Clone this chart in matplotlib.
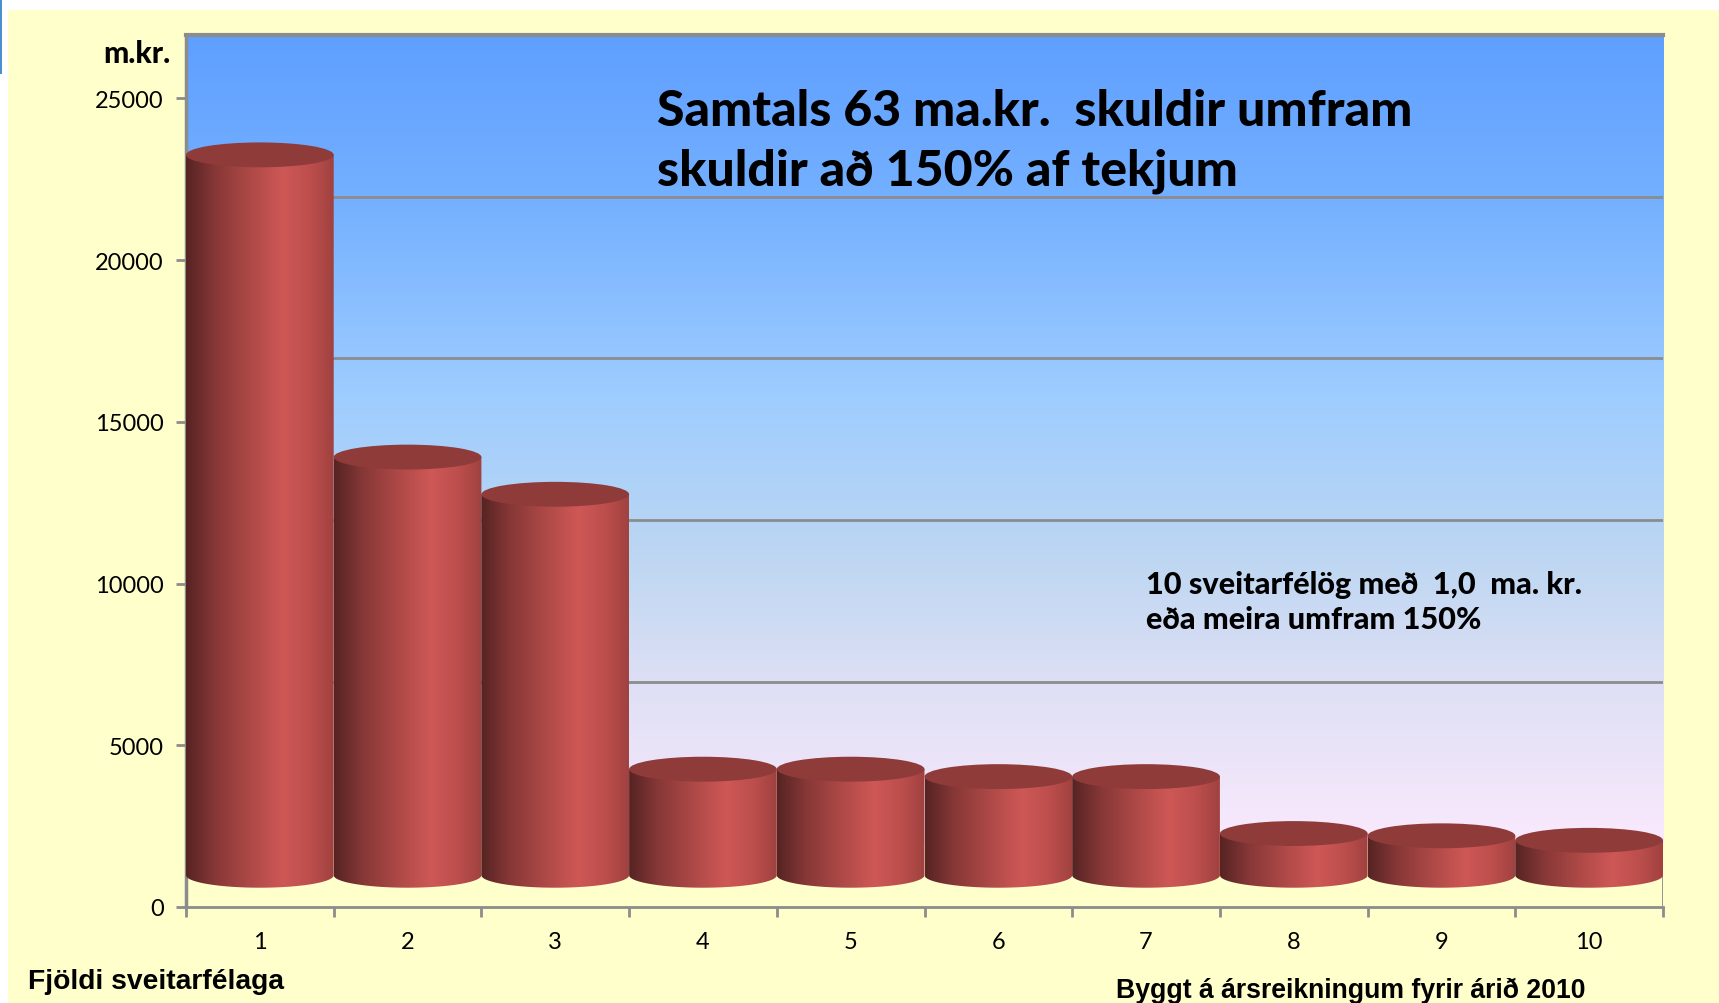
import matplotlib
matplotlib.use('Agg')
import matplotlib.pyplot as plt
import numpy as np
from matplotlib.colors import LinearSegmentedColormap
from matplotlib.patches import Ellipse, PathPatch, Rectangle
from matplotlib.path import Path

categories = ['1', '2', '3', '4', '5', '6', '7', '8', '9', '10']
values = [22275, 12930, 11780, 3280, 3280, 3050, 3050, 1290, 1220, 1080]
yticks = [0, 5000, 10000, 15000, 20000, 25000]
title_lines = ['Samtals 63 ma.kr.  skuldir umfram', 'skuldir að 150% af tekjum']
note_lines = ['10 sveitarfélög með  1,0  ma. kr.', 'eða meira umfram 150%']

W, H = 1719, 1004
DEPTH = 1963     # how far the back wall sits above the front plane, in y units
ELL_H = 770      # full height of a cylinder's end ellipse, in y units
GRID = '#8c8c8c'
FONT = 'Lato'

wall_cmap = LinearSegmentedColormap.from_list(
    'wall', [(0, '#5f9fff'), (0.2, '#74b0ff'), (0.45, '#9fcdff'),
             (0.64, '#bcd6f2'), (0.81, '#dfe0f5'), (1, '#fae9fd')])
bar_cmap = LinearSegmentedColormap.from_list(
    'bar', [(0, '#562423'), (0.2, '#873837'), (0.45, '#b04a48'),
            (0.66, '#ce5856'), (0.85, '#bb4e4c'), (1, '#a04240')])

fig = plt.figure(figsize=(W / 100, H / 100), dpi=100, facecolor='white')

# slide background
bg = fig.add_axes([0, 0, 1, 1], zorder=0)
bg.set_xlim(0, W)
bg.set_ylim(H, 0)
bg.axis('off')
bg.add_patch(Rectangle((8, 11), W - 8, H - 11, color='#ffffcc', lw=0))
bg.add_patch(Rectangle((0, 0), 2, 75, color='#4a8fd0', lw=0))

left, right, top, bottom = 186, 1663, 36, 908
ax = fig.add_axes([left / W, 1 - bottom / H, (right - left) / W, (bottom - top) / H], zorder=1)
ax.patch.set_alpha(0)
ymax = 25000 + DEPTH

# back wall
grad = np.linspace(0, 1, 256).reshape(-1, 1)
ax.imshow(grad, cmap=wall_cmap, extent=(0, 10, DEPTH, ymax), aspect='auto', zorder=1)
for t in yticks[1:-1]:
    ax.plot([0, 10], [t + DEPTH, t + DEPTH], color=GRID, lw=2, zorder=2)
ax.plot([0, 10], [ymax, ymax], color=GRID, lw=3, zorder=2, clip_on=False)

# cylinders
base = DEPTH / 2
side = np.linspace(0, 1, 256).reshape(1, -1)
for i, v in enumerate(values):
    y_top = base + v
    ang = np.linspace(np.pi, 2 * np.pi, 60)
    xs = i + 0.5 + 0.5 * np.cos(ang)
    ys = base + ELL_H / 2 * np.sin(ang)
    verts = list(zip(xs, ys)) + [(i + 1, y_top), (i, y_top), (i, base)]
    clip = PathPatch(Path(verts), transform=ax.transData, fc='none', ec='none')
    ax.add_patch(clip)
    im = ax.imshow(side, cmap=bar_cmap, extent=(i, i + 1, base - ELL_H / 2, y_top),
                   aspect='auto', zorder=3 + i * 0.01)
    im.set_clip_path(clip)
    ax.add_patch(Ellipse((i + 0.5, y_top), 1, ELL_H, fc='#8f3b3a', ec='none',
                         zorder=3.5 + i * 0.01))

ax.set_xlim(0, 10)
ax.set_ylim(0, ymax)
for s in ['top', 'right']:
    ax.spines[s].set_visible(False)
ax.plot([0, 0], [0, ymax], color=GRID, lw=2.5, zorder=2, clip_on=False)
ax.plot([10, 10], [0, DEPTH], color=GRID, lw=2, zorder=2)
for s in ['left', 'bottom']:
    ax.spines[s].set_color(GRID)
    ax.spines[s].set_linewidth(2)
ax.set_yticks(yticks)
ax.set_yticklabels([str(t) for t in yticks], fontsize=17, family=FONT, color='black')
ax.set_xticks(np.arange(0, 11))
ax.set_xticklabels([])
ax.set_xticks(np.arange(len(categories)) + 0.5, minor=True)
ax.set_xticklabels(categories, minor=True, fontsize=17, family=FONT, color='black')
ax.tick_params(axis='x', which='major', length=7, width=2, color=GRID)
ax.tick_params(axis='x', which='minor', length=0, pad=17)
ax.tick_params(axis='y', length=7, width=2, color=GRID, pad=9)

def put(x, y, s, size, family=FONT, weight='bold'):
    fig.text(x / W, 1 - y / H, s, fontsize=size, fontweight=weight, family=family,
             va='center', ha='left', color='black')

put(103, 54, 'm.kr.', 21.5, weight='black')
put(657, 112, title_lines[0], 36, weight='black')
put(657, 171, title_lines[1], 36, weight='black')
put(1146, 585, note_lines[0], 22.1, weight='black')
put(1146, 620, note_lines[1], 22.1, weight='black')
put(28, 982, 'Fjöldi sveitarfélaga', 20.3, 'Liberation Sans')
put(1116, 991, 'Byggt á ársreikningum fyrir árið 2010', 19.15, 'Liberation Sans')

fig.savefig('out.png', dpi=100, facecolor=fig.get_facecolor())
